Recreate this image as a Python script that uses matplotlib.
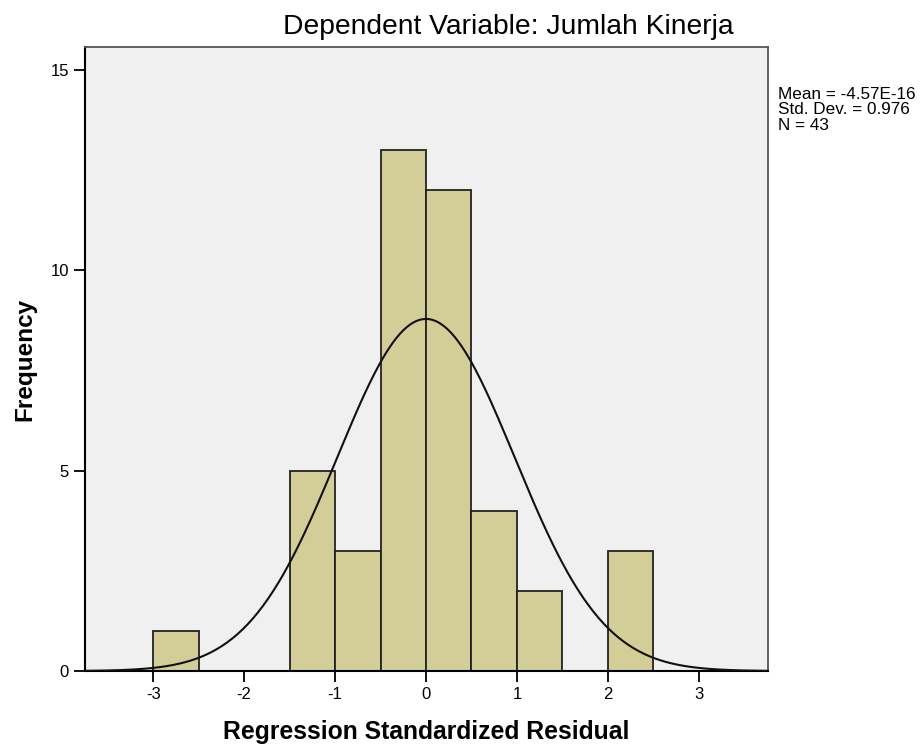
import numpy as np
import matplotlib.pyplot as plt

plt.rcParams['font.family'] = ['Liberation Sans', 'DejaVu Sans']
plt.rcParams['axes.unicode_minus'] = False

# histogram bins (Regression Standardized Residual) and counts
bin_left = [-3.0, -1.5, -1.0, -0.5, 0.0, 0.5, 1.0, 2.0]
counts = [1, 5, 3, 13, 12, 4, 2, 3]
bin_width = 0.5

mean = -4.57e-16
std_dev = 0.976
n_obs = 43

fig = plt.figure(figsize=(9.24, 7.47), dpi=100)
ax = fig.add_axes([0.092, 0.1017, 0.739, 0.835])
ax.set_facecolor('#F0F0F0')

ax.bar(bin_left, counts, width=bin_width, align='edge',
       color='#D3CE97', edgecolor='#222222', linewidth=1.3, zorder=2)

x = np.linspace(-3.75, 3.76, 400)
y = n_obs * bin_width / (std_dev * np.sqrt(2 * np.pi)) * np.exp(-0.5 * ((x - mean) / std_dev) ** 2)
ax.plot(x, y, color='#111111', lw=1.5, zorder=3)

ax.set_xlim(-3.75, 3.76)
ax.set_ylim(0, 15.57)
ax.set_xticks([-3, -2, -1, 0, 1, 2, 3])
ax.set_yticks([0, 5, 10, 15])
ax.tick_params(direction='out', length=8, width=1.3, labelsize=12, colors='black')

for s in ['top', 'right']:
    ax.spines[s].set_color('#555555')
    ax.spines[s].set_linewidth(1.3)
for s in ['left', 'bottom']:
    ax.spines[s].set_color('black')
    ax.spines[s].set_linewidth(1.5)

ax.set_xlabel('Regression Standardized Residual', fontsize=17.8, fontweight='bold', labelpad=13)
ax.set_ylabel('Frequency', fontsize=17.5, fontweight='bold', labelpad=10)

fig.text(0.55, 0.964, 'Dependent Variable: Jumlah Kinerja', ha='center', va='center',
         fontsize=20.3)
fig.text(0.842, 0.884, 'Mean = -4.57E-16\nStd. Dev. = 0.976\nN = 43', ha='left', va='top',
         fontsize=12.3, linespacing=1.05)

fig.savefig('out.png', dpi=100)
